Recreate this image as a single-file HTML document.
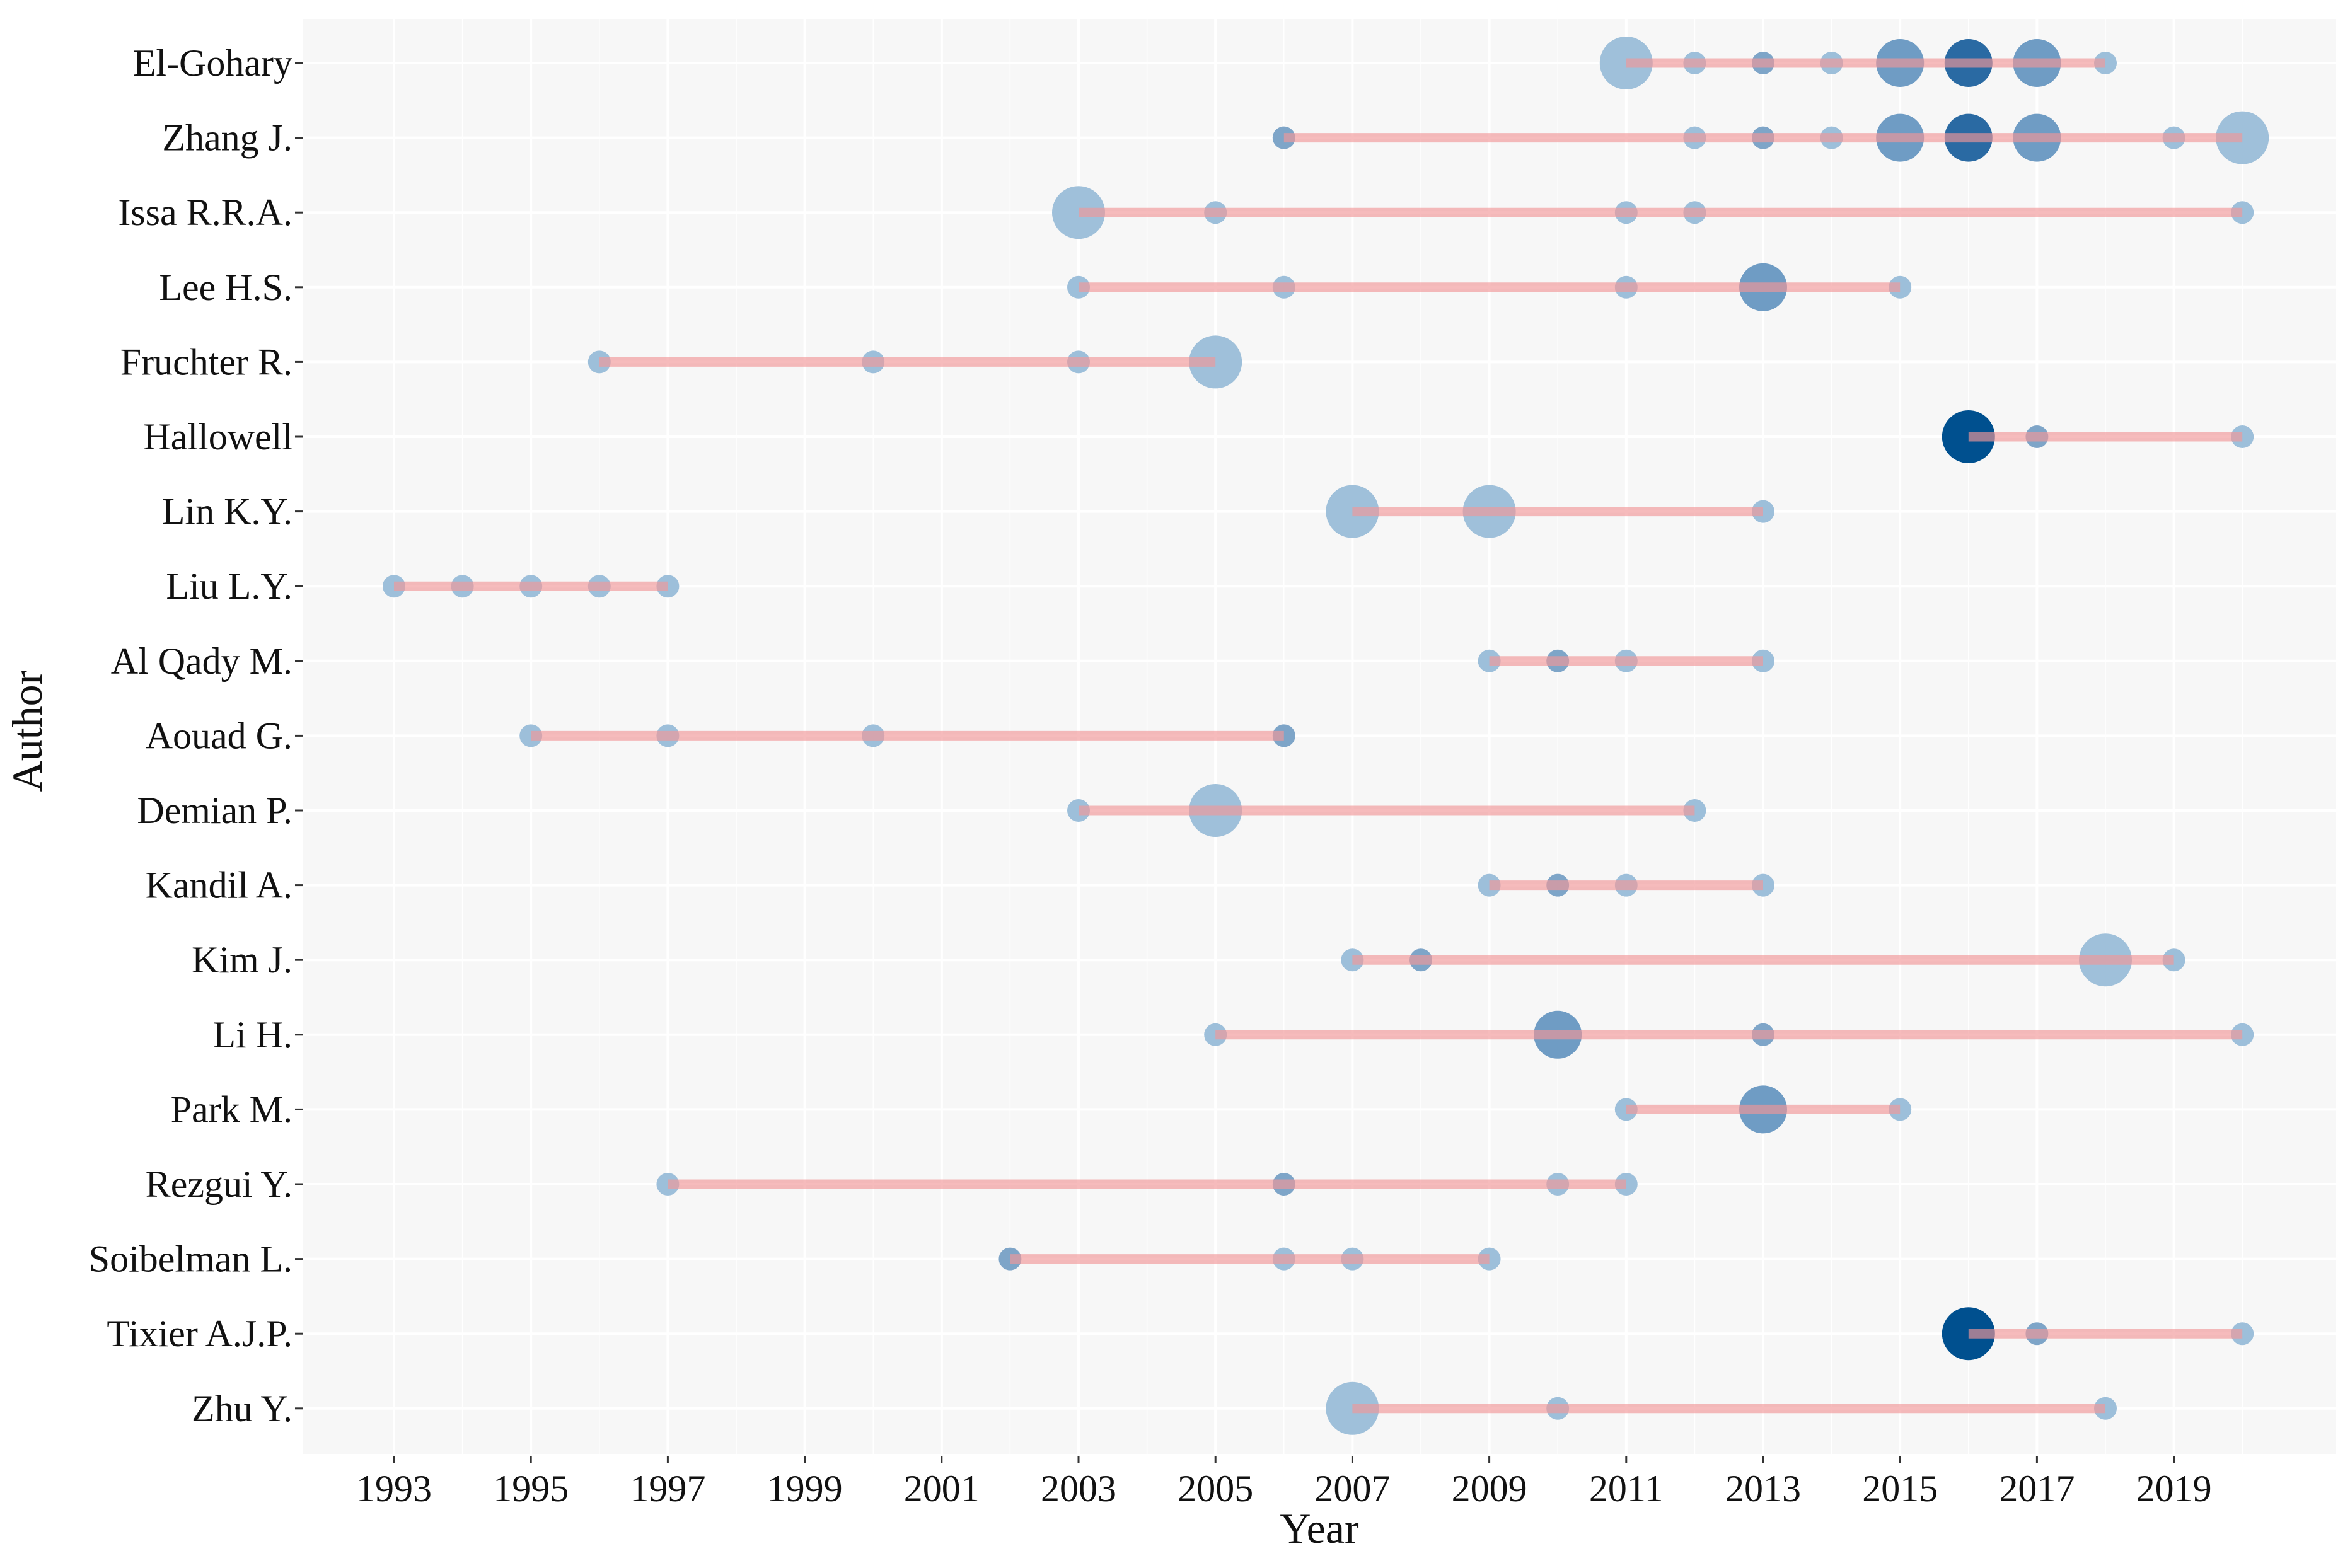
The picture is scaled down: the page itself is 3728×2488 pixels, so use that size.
<!DOCTYPE html>
<html><head><meta charset="utf-8"><style>
html,body{margin:0;padding:0;background:#fff;}
svg{display:block;}
text{font-family:"Liberation Serif",serif;fill:#111;}
</style></head><body>
<svg id="chart" width="3728" height="2488" viewBox="0 0 3728 2488" xmlns="http://www.w3.org/2000/svg">
<rect x="480" y="30" width="3225" height="2277" fill="#f7f7f7"/>
<g id="grid"></g><g id="marks"></g><g id="axes"></g>
<text x="2093" y="2448" font-size="68" text-anchor="middle">Year</text>
<text x="0" y="0" font-size="68" text-anchor="middle" transform="translate(66,1160) rotate(-90)">Author</text>
</svg>
<script>
const authors = ["El-Gohary","Zhang J.","Issa R.R.A.","Lee H.S.","Fruchter R.","Hallowell","Lin K.Y.","Liu L.Y.","Al Qady M.","Aouad G.","Demian P.","Kandil A.","Kim J.","Li H.","Park M.","Rezgui Y.","Soibelman L.","Tixier A.J.P.","Zhu Y."];
const years = [
 [2011,2012,2013,2014,2015,2016,2017,2018],
 [2006,2012,2013,2014,2015,2016,2017,2019,2020],
 [2003,2005,2011,2012,2020],
 [2003,2006,2011,2013,2015],
 [1996,2000,2003,2005],
 [2016,2017,2020],
 [2007,2009,2013],
 [1993,1994,1995,1996,1997],
 [2009,2010,2011,2013],
 [1995,1997,2000,2006],
 [2003,2005,2012],
 [2009,2010,2011,2013],
 [2007,2008,2018,2019],
 [2005,2010,2013,2020],
 [2011,2013,2015],
 [1997,2006,2010,2011],
 [2002,2006,2007,2009],
 [2016,2017,2020],
 [2007,2010,2018]
];
const counts = [
 [3,1,2,1,4,5,4,1],
 [2,1,2,1,4,5,4,1,3],
 [3,1,1,1,1],
 [1,1,1,4,1],
 [1,1,1,3],
 [6,2,1],
 [3,3,1],
 [1,1,1,1,1],
 [1,2,1,1],
 [1,1,1,2],
 [1,3,1],
 [1,2,1,1],
 [1,2,3,1],
 [1,4,2,1],
 [1,4,1],
 [1,2,1,1],
 [2,1,1,1],
 [6,2,1],
 [3,1,1]
];
const tickYears = [1993,1995,1997,1999,2001,2003,2005,2007,2009,2011,2013,2015,2017,2019];

const NS="http://www.w3.org/2000/svg";
function xs(y){return 625+(y-1993)*108.6;}
function ys(i){return 100+i*118.6;}
const radius={1:18,2:18,3:42,4:38,5:38,6:42};
const color={1:"#9dbfda",2:"#7ea5c8",3:"#9fc0da",4:"#6f9cc4",5:"#2a6aa3",6:"#00508f"};
function mk(tag,attrs,parent){const e=document.createElementNS(NS,tag);for(const k in attrs)e.setAttribute(k,attrs[k]);parent.appendChild(e);return e;}
const grid=document.getElementById('grid'),marks=document.getElementById('marks'),axes=document.getElementById('axes');
for(let y=1993;y<=2020;y++){
  const l=mk('line',{x1:xs(y),x2:xs(y),y1:30,y2:2307,stroke:'#ffffff','stroke-width':(y%2?4:1.5)},grid);
  
  
}
authors.forEach((a,i)=>{
  const g=mk('line',{x1:480,x2:3705,y1:ys(i),y2:ys(i),stroke:'#ffffff','stroke-width':4},grid);
  
  
  const t=mk('text',{x:464,y:ys(i)+20,'font-size':60,'text-anchor':'end'},axes);
  t.textContent=a;
  
  
  const tk=mk('line',{x1:468,x2:480,y1:ys(i),y2:ys(i),stroke:'#333','stroke-width':3},axes);
  
  
  const row=mk('g',{},marks);
  
  
  years[i].forEach((yr,j)=>{
    const c=counts[i][j];
    const p=mk('circle',{cx:xs(yr),cy:ys(i),r:radius[c],fill:color[c]},row);
    
    
  });
  const ln=mk('line',{x1:xs(Math.min(...years[i])),x2:xs(Math.max(...years[i])),y1:ys(i),y2:ys(i),stroke:'rgba(241,150,152,0.65)','stroke-width':15},row);
  
  
});
tickYears.forEach(y=>{
  const tk=mk('line',{x1:xs(y),x2:xs(y),y1:2310,y2:2322,stroke:'#333','stroke-width':3},axes);
  
  
  const t=mk('text',{x:xs(y),y:2382,'font-size':60,'text-anchor':'middle'},axes);
  t.textContent=y;
  
  
});
</script>
</body></html>
